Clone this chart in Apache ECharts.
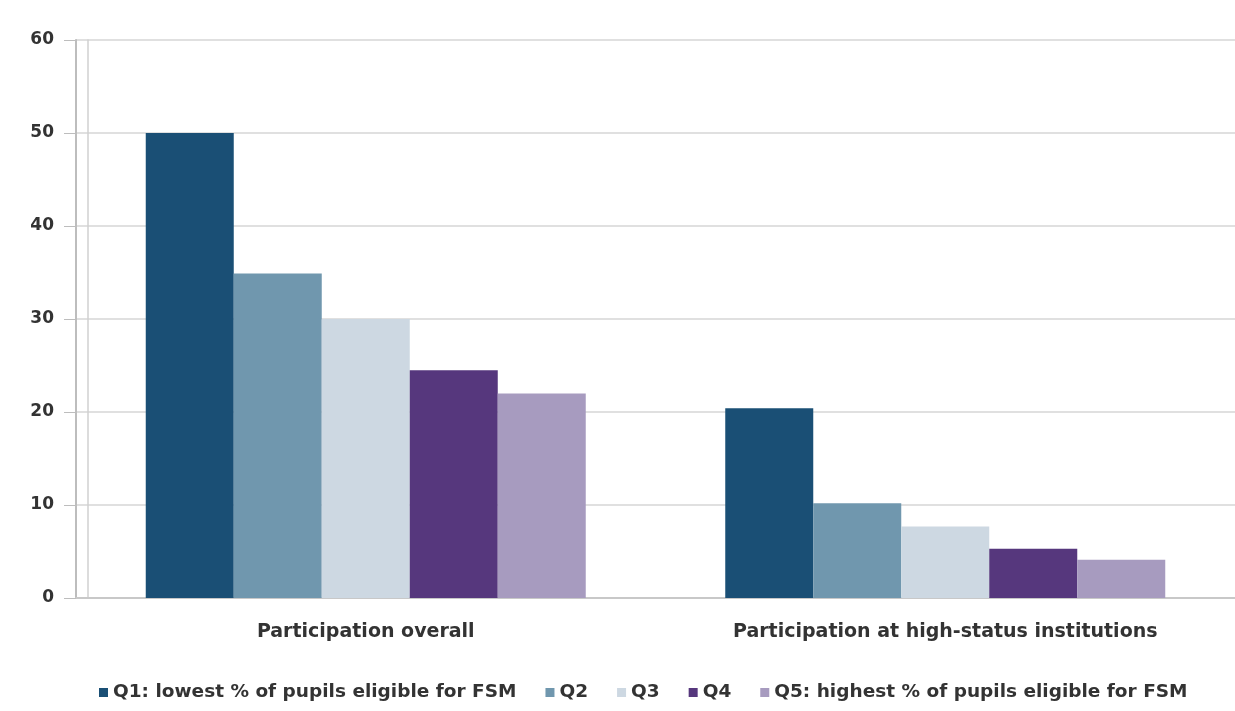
<!DOCTYPE html>
<html>
<head>
<meta charset="utf-8">
<script src="https://cdn.jsdelivr.net/npm/echarts@6/dist/echarts.min.js"></script>
<style>
html,body{margin:0;padding:0;background:#fff;}
#chart{width:1235px;height:711px;}
</style>
</head>
<body>
<div id="chart"></div>
<script>
const categories = ['Participation overall', 'Participation at high-status institutions'];
const seriesNames = ['Q1: lowest % of pupils eligible for FSM', 'Q2', 'Q3', 'Q4', 'Q5: highest % of pupils eligible for FSM'];
const q1 = [50.0, 20.4];
const q2 = [34.9, 10.2];
const q3 = [30.0, 7.7];
const q4 = [24.5, 5.3];
const q5 = [22.0, 4.1];
const seriesValues = [q1, q2, q3, q4, q5];
const colors = ['#1a4f75', '#7097ae', '#cdd8e2', '#56377d', '#a79bbf'];

const chart = echarts.init(document.getElementById('chart'));
const font = 'DejaVu Sans';
chart.setOption({
  animation: false,
  backgroundColor: '#ffffff',
  color: colors,
  grid: { left: 76, top: 40, width: 1162, height: 558, containLabel: false },
  legend: {
    top: 678,
    left: 94,
    itemWidth: 9,
    itemHeight: 9,
    itemGap: 29,
    icon: 'rect',
    textStyle: { fontFamily: font, fontSize: 18.5, fontWeight: 'bold', color: '#333' },
    data: seriesNames
  },
  xAxis: {
    type: 'category',
    data: categories,
    axisLine: { show: true, lineStyle: { color: '#c8c8c8', width: 2 } },
    axisTick: { show: false },
    axisLabel: { margin: 25, fontFamily: font, fontSize: 19, fontWeight: 'bold', color: '#333' }
  },
  yAxis: [{
    type: 'value',
    min: 0, max: 60, interval: 10,
    axisLine: { show: true, lineStyle: { color: '#bdbdbd', width: 2 } },
    axisTick: { show: true, length: 12, lineStyle: { color: '#bdbdbd' } },
    axisLabel: { margin: 22, fontFamily: font, fontSize: 17, fontWeight: 'bold', color: '#333' },
    splitLine: { show: true, lineStyle: { color: '#e0e0e0', width: 2 } }
  }, {
    type: 'value',
    position: 'left',
    offset: -12,
    min: 0, max: 60, interval: 10,
    axisLine: { show: true, lineStyle: { color: '#d0d0d0', width: 1.5 } },
    axisTick: { show: false },
    axisLabel: { show: false },
    splitLine: { show: false }
  }],
  series: seriesValues.map((vals, i) => ({
    name: seriesNames[i],
    type: 'bar',
    data: vals,
    barWidth: 88,
    barGap: '0%',
    itemStyle: { color: colors[i] }
  }))
});
</script>
</body>
</html>
